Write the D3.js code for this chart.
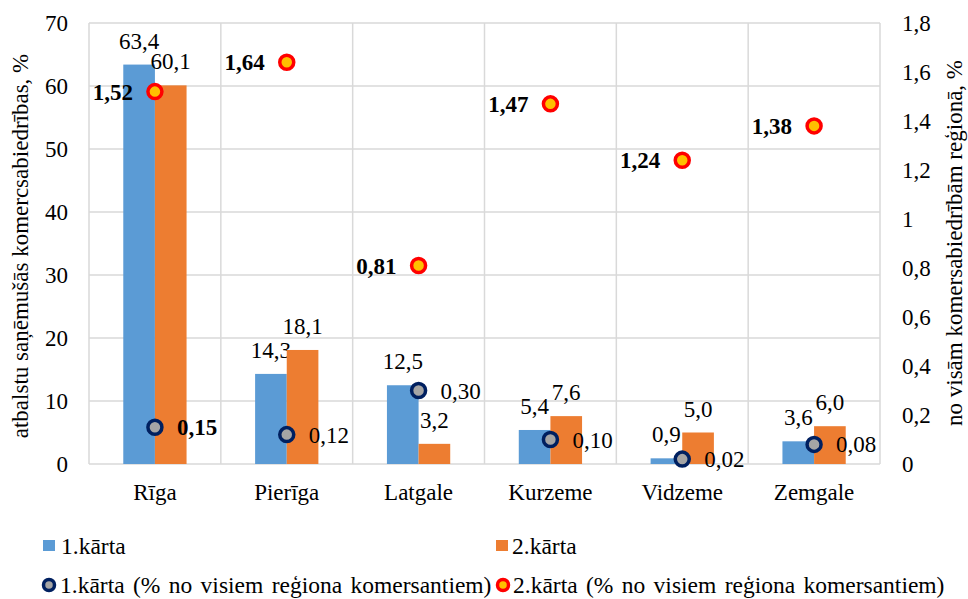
<!DOCTYPE html>
<html>
<head>
<meta charset="utf-8">
<script src="https://cdn.jsdelivr.net/npm/d3@7"></script>
<style>
  body { margin: 0; background: #fff; }
</style>
</head>
<body>
<svg id="chart" width="968" height="599"></svg>
<script>
const regions = ['Rīga', 'Pierīga', 'Latgale', 'Kurzeme', 'Vidzeme', 'Zemgale'];
const karta1 = [63.4, 14.3, 12.5, 5.4, 0.9, 3.6];
const karta2 = [60.1, 18.1, 3.2, 7.6, 5.0, 6.0];
const karta1Pct = [0.15, 0.12, 0.30, 0.10, 0.02, 0.08];
const karta2Pct = [1.52, 1.64, 0.81, 1.47, 1.24, 1.38];
const leftTicks = [0, 10, 20, 30, 40, 50, 60, 70];
const rightTicks = [0, 0.2, 0.4, 0.6, 0.8, 1, 1.2, 1.4, 1.6, 1.8];

const FONT = "'Liberation Serif', 'Times New Roman', serif";
const fmt = d => d3.format('.1f')(d).replace('.', ',');
const fmt2 = d => d3.format('.2f')(d).replace('.', ',');
const fmtAxis = d => String(+d.toFixed(1)).replace('.', ',');

const svg = d3.select('#chart');
const plot = { left: 89, right: 880, top: 23, bottom: 464 };

const x0 = d3.scaleBand().domain(regions).range([plot.left, plot.right]).padding(0);
const bw = x0.bandwidth();
const x1 = d3.scaleBand().domain(['k1', 'k2']).range([bw * 0.26, bw * 0.74]);
const yL = d3.scaleLinear().domain([0, 70]).range([plot.bottom, plot.top]);
const yR = d3.scaleLinear().domain([0, 1.8]).range([plot.bottom, plot.top]);

// grid
const grid = svg.append('g').attr('class', 'grid');
grid.selectAll('line.h')
    .data(leftTicks)
    .enter()
    .append('line')
    .attr('x1', plot.left).attr('x2', plot.right)
    .attr('y1', d => yL(d)).attr('y2', d => yL(d))
    .attr('stroke', '#d9d9d9').attr('stroke-width', 1.5)
grid.selectAll('line.v')
    .data(regions.concat(['end']))
    .enter()
    .append('line')
    .attr('x1', d => d === 'end' ? plot.right : x0(d))
    .attr('x2', d => d === 'end' ? plot.right : x0(d))
    .attr('y1', plot.top).attr('y2', plot.bottom)
    .attr('stroke', '#d9d9d9').attr('stroke-width', 1.5)

// axes
const leftAxis = svg.append('g')
    .attr('transform', 'translate(' + plot.left + ',0)')
    .call(d3.axisLeft(yL).tickValues(leftTicks).tickSize(0).tickPadding(21).tickFormat(d => d))
leftAxis.select('.domain').remove()

const rightAxis = svg.append('g')
    .attr('transform', 'translate(' + plot.right + ',0)')
    .call(d3.axisRight(yR).tickValues(rightTicks).tickSize(0).tickPadding(22).tickFormat(fmtAxis))
rightAxis.select('.domain').remove()

const bottomAxis = svg.append('g')
    .attr('transform', 'translate(0,' + plot.bottom + ')')
    .call(d3.axisBottom(x0).tickSize(0).tickPadding(20))
bottomAxis.select('.domain').remove()

// axis titles
svg.append('text')
    .text('atbalstu saņēmušās komercsabiedrības, %')
    .attr('text-anchor', 'middle')
    .attr('transform', 'translate(28,246),rotate(-90)')
svg.append('text')
    .text('no visām komersabiedrībām reģionā, %')
    .attr('text-anchor', 'middle')
    .attr('transform', 'translate(962,243),rotate(-90)')

// bars
const rows = regions.map((r, i) => ({ region: r, k1: karta1[i], k2: karta2[i], p1: karta1Pct[i], p2: karta2Pct[i] }));
const colors = { k1: '#5b9bd5', k2: '#ed7d31' };

const bars = svg.append('g').attr('class', 'bars');
['k1', 'k2'].forEach(s => {
    bars.selectAll('rect.' + s)
        .data(rows)
        .enter()
        .append('rect')
        .attr('class', s)
        .attr('x', d => x0(d.region) + x1(s))
        .attr('width', x1.bandwidth())
        .attr('y', d => yL(d[s]))
        .attr('height', d => yL(0) - yL(d[s]))
        .attr('fill', colors[s])

    bars.selectAll('text.' + s)
        .data(rows)
        .enter()
        .append('text')
        .attr('class', s)
        .attr('x', d => x0(d.region) + x1(s) + x1.bandwidth() / 2)
        .attr('y', d => yL(d[s]) - 16)
        .attr('text-anchor', 'middle')
        .text(d => fmt(d[s]))
})

// markers
const markers = svg.append('g').attr('class', 'markers');
const cx = d => x0(d.region) + bw / 2;

markers.selectAll('circle.p1')
    .data(rows)
    .enter()
    .append('circle')
    .attr('cx', cx)
    .attr('cy', d => yR(d.p1))
    .attr('r', 7)
    .attr('fill', '#a5a5a5')
    .attr('stroke', '#002060')
    .attr('stroke-width', 3.5)

markers.selectAll('text.p1')
    .data(rows)
    .enter()
    .append('text')
    .attr('x', d => cx(d) + 22)
    .attr('y', d => yR(d.p1) + 8)
    .attr('font-weight', (d, i) => i === 0 ? 'bold' : 'normal')
    .text(d => fmt2(d.p1))

markers.selectAll('circle.p2')
    .data(rows)
    .enter()
    .append('circle')
    .attr('cx', cx)
    .attr('cy', d => yR(d.p2))
    .attr('r', 7)
    .attr('fill', '#ffc000')
    .attr('stroke', '#ff0000')
    .attr('stroke-width', 3.5)

markers.selectAll('text.p2')
    .data(rows)
    .enter()
    .append('text')
    .attr('x', d => cx(d) - 22)
    .attr('y', d => yR(d.p2) + 8)
    .attr('text-anchor', 'end')
    .attr('font-weight', 'bold')
    .text(d => fmt2(d.p2))

svg.selectAll('text')
    .style('font-family', FONT)
    .style('font-size', '23px')
    .style('fill', '#000')

// legend
const legend = svg.append('g').attr('class', 'legend');
const legendItems = [
    { label: '1.kārta', type: 'rect', color: colors.k1, x: 43, tx: 61, y: 546 },
    { label: '2.kārta', type: 'rect', color: colors.k2, x: 496, tx: 512, y: 546 },
    { label: '1.kārta (% no visiem reģiona komersantiem)', type: 'circle', fill: '#a5a5a5', stroke: '#002060', x: 49, tx: 60, y: 585 },
    { label: '2.kārta (% no visiem reģiona komersantiem)', type: 'circle', fill: '#ffc000', stroke: '#ff0000', x: 503, tx: 513, y: 585 }
];
legendItems.forEach(it => {
    if (it.type === 'rect') {
        legend.append('rect')
            .attr('x', it.x).attr('y', it.y - 6)
            .attr('width', 12).attr('height', 11)
            .attr('fill', it.color)
    } else {
        legend.append('circle')
            .attr('cx', it.x).attr('cy', it.y)
            .attr('r', 5.5)
            .attr('fill', it.fill)
            .attr('stroke', it.stroke)
            .attr('stroke-width', 3.5)
    }
    legend.append('text')
        .attr('x', it.tx)
        .attr('y', it.y + 8)
        .style('font-family', FONT)
        .style('font-size', '23.5px')
        .style('word-spacing', '2.5px')
        .style('fill', '#000')
        .text(it.label)
})
</script>
</body>
</html>
